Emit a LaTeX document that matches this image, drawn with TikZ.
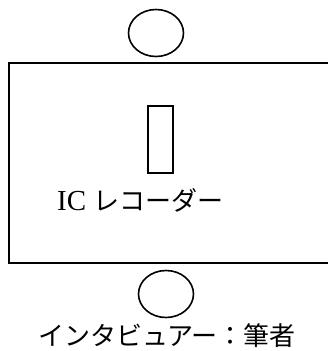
\documentclass[tikz,border=0pt]{standalone}
\usepackage{fontspec}
\setmainfont{Liberation Serif}
\newfontfamily\cjk{Noto Sans CJK JP}
\usetikzlibrary{shapes.geometric}
\begin{document}
\begin{tikzpicture}[x=1pt,y=-1pt,
  person/.style={draw,line width=1.6pt,ellipse,inner sep=0pt,minimum width=55pt,minimum height=47pt},
  frame/.style={draw,line width=1.5pt,inner sep=0pt},
  lbl/.style={inner sep=0pt},
  jp/.style={font=\cjk\fontsize{26pt}{30pt}\selectfont}]
\useasboundingbox (0,0) rectangle (328,351);
\clip (0,0) rectangle (328,351);
% clipped top label
\node[lbl,jp,anchor=base west] (toplbl) at (14,-3) {インタビュイー：臨床分析技師};
\node[person] (p1) at (156,33) {};
\node[frame,minimum width=336pt,minimum height=200pt,anchor=north west] (room) at (8,62) {};
\node[frame,minimum width=25pt,minimum height=67pt,anchor=north west] (rec) at (147,105) {};
\node[lbl,anchor=base west,font=\fontsize{29pt}{34pt}\selectfont] (ic) at (57,210) {IC};
\node[lbl,jp,anchor=base west] (reclbl) at ([xshift=7pt]ic.base east) {レコーダー};
\node[person] (p2) at (166,294) {};
\node[lbl,jp] (botlbl) at (167,336) {インタビュアー：筆者};
\end{tikzpicture}
\end{document}
